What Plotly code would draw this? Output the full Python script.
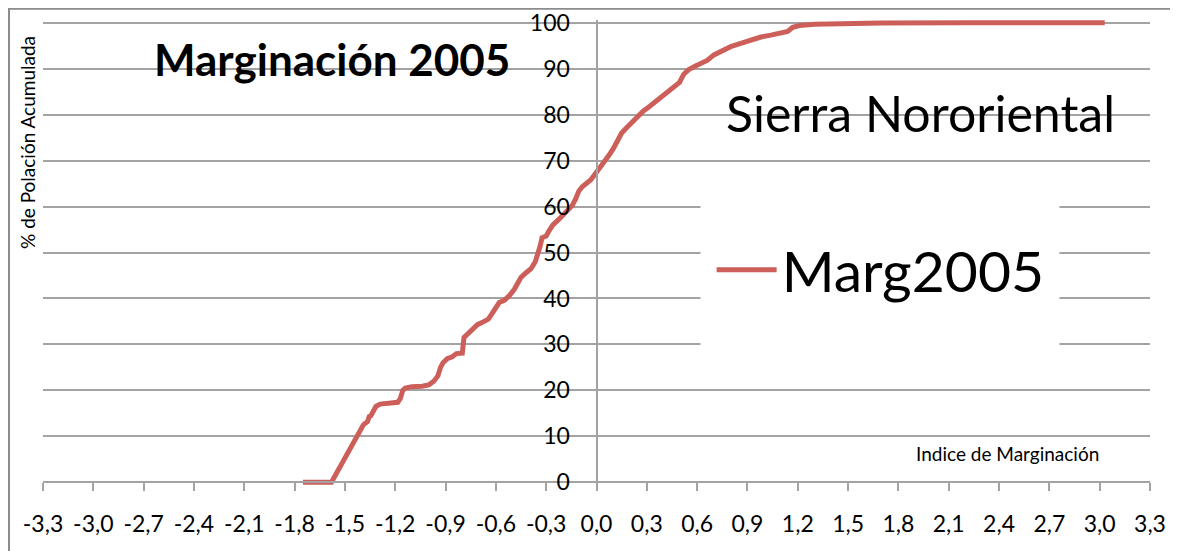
import plotly.graph_objects as go

# curva acumulada (indice de marginacion vs % de poblacion)
indice = [-1.75, -1.58, -1.39, -1.375, -1.365, -1.355, -1.345, -1.33, -1.315, -1.29,
          -1.22, -1.185, -1.17, -1.155, -1.14, -1.10, -1.04, -1.00, -0.97, -0.945,
          -0.93, -0.915, -0.89, -0.86, -0.835, -0.80, -0.79, -0.77, -0.74, -0.71,
          -0.68, -0.645, -0.625, -0.60, -0.58, -0.55, -0.52, -0.49, -0.46, -0.45,
          -0.42, -0.39, -0.365, -0.35, -0.335, -0.325, -0.30, -0.285, -0.26, -0.225,
          -0.195, -0.17, -0.145, -0.125, -0.105, -0.085, -0.06, -0.035, -0.01, 0.02,
          0.05, 0.075, 0.10, 0.125, 0.15, 0.175, 0.21, 0.25, 0.28, 0.31,
          0.35, 0.39, 0.43, 0.47, 0.495, 0.52, 0.55, 0.59, 0.63, 0.66,
          0.70, 0.75, 0.80, 0.86, 0.92, 0.98, 1.04, 1.10, 1.14, 1.17,
          1.21, 1.30, 1.45, 1.70, 2.20, 3.03]
poblacion = [0.0, 0.0, 12.5, 13.0, 13.2, 14.3, 14.5, 15.5, 16.5, 17.0,
             17.2, 17.4, 18.2, 20.0, 20.5, 20.8, 20.9, 21.2, 22.0, 23.2,
             25.0, 26.0, 26.9, 27.3, 28.0, 28.1, 31.5, 32.3, 33.5, 34.3,
             34.8, 35.5, 36.6, 38.3, 39.1, 39.6, 40.6, 42.0, 43.8, 44.6,
             45.6, 46.5, 48.0, 49.5, 51.5, 53.2, 53.6, 54.6, 56.0, 57.2,
             58.2, 59.2, 60.2, 61.6, 63.4, 64.3, 65.0, 65.8, 67.0, 68.4,
             70.0, 71.2, 72.6, 74.4, 76.0, 77.0, 78.4, 79.6, 80.8, 81.6,
             82.8, 84.0, 85.2, 86.2, 87.0, 88.8, 89.8, 90.6, 91.2, 91.8,
             93.0, 94.0, 94.8, 95.5, 96.2, 96.9, 97.3, 97.8, 98.1, 99.0,
             99.4, 99.7, 99.85, 99.95, 100.0, 100.0]

x_ticks = [-3.3, -3.0, -2.7, -2.4, -2.1, -1.8, -1.5, -1.2, -0.9, -0.6, -0.3, 0.0,
           0.3, 0.6, 0.9, 1.2, 1.5, 1.8, 2.1, 2.4, 2.7, 3.0, 3.3]
x_tick_labels = ["-3,3", "-3,0", "-2,7", "-2,4", "-2,1", "-1,8", "-1,5", "-1,2", "-0,9",
                 "-0,6", "-0,3", "0,0", "0,3", "0,6", "0,9", "1,2", "1,5", "1,8", "2,1",
                 "2,4", "2,7", "3,0", "3,3"]
y_ticks = [0, 10, 20, 30, 40, 50, 60, 70, 80, 90, 100]

FONT = "Lato, 'Open Sans', sans-serif"
GRID = "#A3A3A3"
LINE_COLOR = "#CD5F5A"

x_range = [-3.3, 3.3]
y_range = [-0.6, 100.6]

fig = go.Figure()
fig.add_trace(go.Scatter(
    x=indice, y=poblacion, mode="lines", name="Marg2005",
    line=dict(color=LINE_COLOR, width=5),
))

# the page body adds an 8px offset, so the figure is 8px smaller than the window
fig.update_layout(
    width=1170, height=543,
    margin=dict(l=35, r=28, t=12, b=66, autoexpand=False),
    paper_bgcolor="white", plot_bgcolor="white",
    font=dict(family=FONT, color="black"),
    showlegend=True,
    legend=dict(
        x=0.604, y=0.462, xanchor="left", yanchor="middle",
        bgcolor="rgba(0,0,0,0)", font=dict(size=57, family=FONT),
        itemwidth=60,
    ),
    xaxis=dict(
        range=x_range, tickvals=x_ticks, ticktext=x_tick_labels,
        showgrid=False, zeroline=False, automargin=False,
        showline=True, linecolor=GRID, linewidth=2,
        ticks="outside", ticklen=8, tickwidth=2, tickcolor=GRID,
        tickfont=dict(size=23), ticklabelstandoff=13, ticklabeloverflow="allow",
        anchor="free", position=(0 - y_range[0]) / (y_range[1] - y_range[0]),
    ),
    yaxis=dict(
        range=y_range, tickvals=y_ticks,
        showgrid=True, gridcolor=GRID, gridwidth=2, zeroline=False, automargin=False,
        showline=True, linecolor=GRID, linewidth=2,
        ticks="outside", ticklen=6, tickwidth=2, tickcolor=GRID,
        tickfont=dict(size=23), ticklabelstandoff=15, ticklabeloverflow="allow",
        anchor="free", position=(0 - x_range[0]) / (x_range[1] - x_range[0]),
    ),
)

# recuadro del grafico y fondo blanco de la leyenda
fig.add_shape(type="rect", xref="paper", yref="paper",
              x0=-0.0307, x1=1.05, y0=-0.2, y1=1.024,
              line=dict(color="#8C8C8C", width=2), layer="below")
fig.add_shape(type="rect", xref="x", yref="y", x0=0.62, x1=2.76, y0=21, y1=69,
              fillcolor="white", line=dict(width=0), layer="between")

fig.add_annotation(text="<b>Marginación 2005</b>", xref="paper", yref="paper",
                   x=0.0985, y=0.916, xanchor="left", yanchor="middle",
                   showarrow=False, font=dict(size=44))
fig.add_annotation(text="Sierra Nororiental", xref="paper", yref="paper",
                   x=0.615, y=0.801, xanchor="left", yanchor="middle",
                   showarrow=False, font=dict(size=50))
fig.add_annotation(text="% de Polación Acumulada", xref="paper", yref="paper",
                   x=-0.0145, y=0.7376, xanchor="center", yanchor="middle",
                   textangle=-90, showarrow=False, font=dict(size=19))
fig.add_annotation(text="Indice de Marginación", xref="paper", yref="paper",
                   x=0.871, y=0.0688, xanchor="center", yanchor="middle",
                   showarrow=False, font=dict(size=19))

fig.write_html("out.html")
